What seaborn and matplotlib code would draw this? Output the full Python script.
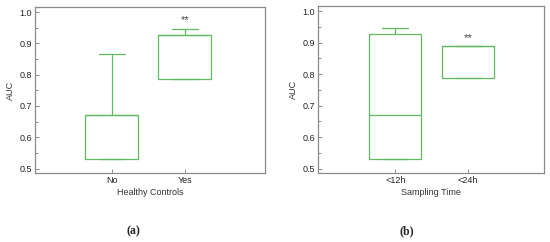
import matplotlib
matplotlib.use("Agg")
import matplotlib.pyplot as plt
from matplotlib.ticker import MultipleLocator
import pandas as pd
import seaborn as sns

# AUC values per group
controls = ["No", "Yes"]
auc_no = [0.53, 0.53, 0.67, 0.67, 0.867]
auc_yes = [0.787, 0.787, 0.927, 0.927, 0.947]

sampling = ["<12h", "<24h"]
auc_12h = [0.53, 0.53, 0.67, 0.927, 0.947]
auc_24h = [0.787, 0.787, 0.89, 0.89, 0.89]

GREEN = "#5fbb5f"
GREY = "#8a8a8a"

sns.set_style("white")
plt.rcParams.update({
    "font.family": ["Liberation Sans", "DejaVu Sans"],
    "font.size": 6.5,
    "xtick.bottom": True,
    "ytick.left": True,
})


def make_df(cats, groups):
    rows = []
    for c, vals in zip(cats, groups):
        for v in vals:
            rows.append({"group": c, "auc": v})
    return pd.DataFrame(rows)


def panel(ax, df, cats, xlabel, xlim, star_x, star_y):
    sns.boxplot(
        data=df, x="group", y="auc", order=cats, ax=ax,
        width=0.72, fill=False, color=GREEN, linewidth=0.9,
        whis=1.5, showfliers=False, showcaps=True,
    )
    ax.set_xlim(*xlim)
    ax.set_ylim(0.486, 1.016)
    ax.yaxis.set_major_locator(MultipleLocator(0.1))
    ax.yaxis.set_minor_locator(MultipleLocator(0.05))
    ax.set_yticks(ax.get_yticks())
    ax.set_yticklabels([f"{t:.1f}" for t in ax.get_yticks()])
    ax.set_ylim(0.486, 1.016)
    ax.tick_params(axis="both", which="both", direction="in", color=GREY,
                   labelsize=6.5, pad=2, width=0.7, labelcolor="#222222",
                   bottom=True, left=True)
    ax.tick_params(axis="y", which="major", length=3)
    ax.tick_params(axis="y", which="minor", length=2)
    ax.tick_params(axis="x", length=3)
    for s in ax.spines.values():
        s.set_color(GREY)
        s.set_linewidth(0.9)
    ax.set_xlabel(xlabel, fontsize=6.5, labelpad=2, color="#333333")
    ax.set_ylabel("AUC", fontsize=6.5, labelpad=3, color="#333333")
    ax.text(star_x, star_y, "**", ha="center", va="center",
            fontsize=8, color="#444444")


fig = plt.figure(figsize=(5.5, 2.42), dpi=100)
ax1 = fig.add_axes([35 / 550, 1 - 173 / 242, 230 / 550, 166 / 242])
ax2 = fig.add_axes([318 / 550, 1 - 173 / 242, 226 / 550, 167 / 242])

panel(ax1, make_df(controls, [auc_no, auc_yes]), controls,
      "Healthy Controls", (-1.05, 2.1), 1, 0.975)
panel(ax2, make_df(sampling, [auc_12h, auc_24h]), sampling,
      "Sampling Time", (-1.066, 2.05), 1, 0.915)

fig.text(133 / 550, 1 - 231 / 242, "(a)", ha="center", va="center",
         fontsize=8.5, fontweight="bold", family="Liberation Serif")
fig.text(407 / 550, 1 - 231 / 242, "(b)", ha="center", va="center",
         fontsize=8.5, fontweight="bold", family="Liberation Serif")

fig.savefig("out.png", dpi=100)
